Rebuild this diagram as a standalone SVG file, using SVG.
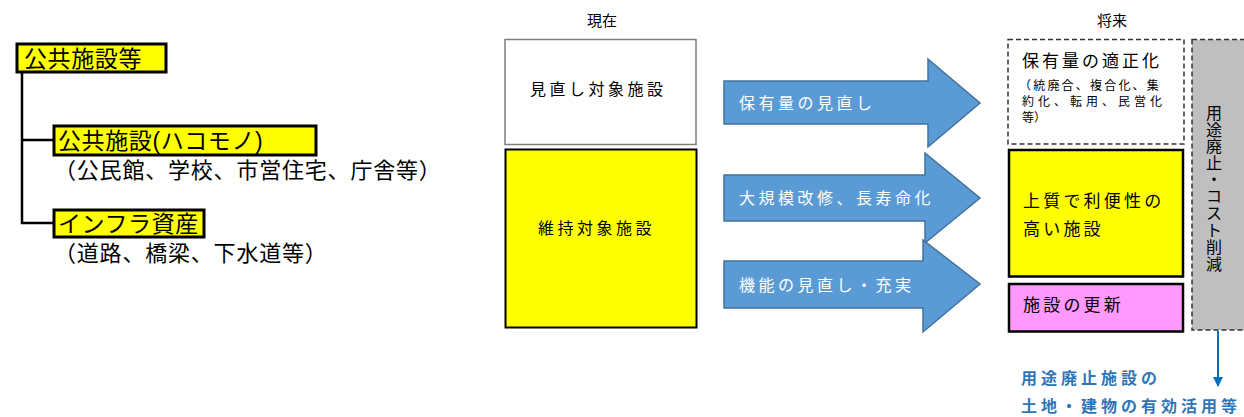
<svg xmlns="http://www.w3.org/2000/svg" width="1244" height="417" viewBox="0 0 1244 417">
<style>
text{font-family:"Liberation Sans","Noto Sans CJK JP",sans-serif;fill:#000}
.ylw{fill:#FFFF00;stroke:#000;stroke-width:3}
.line{stroke:#000;stroke-width:2.5;fill:none}
.lbl{font-size:23px;letter-spacing:0.6px}
.sub{font-size:22px;letter-spacing:0.8px}
.arrow{fill:#5B9BD5;stroke:#41719C;stroke-width:1.5}
.atxt{font-size:16px;fill:#fff;letter-spacing:3.5px}
.mid{font-size:16px;letter-spacing:3.5px}
.dash{stroke:#333;stroke-width:1.5;stroke-dasharray:5,3}
.blue{font-size:16px;font-weight:bold;fill:#2E75B6;letter-spacing:4px}
</style>
<defs>
<marker id="ah" viewBox="0 0 10 10" refX="9" refY="5" markerWidth="5" markerHeight="5" orient="auto">
<path d="M0,0 L10,5 L0,10 z" fill="#0070C0"/>
</marker>
</defs>
<g id="connectors">
<path class="line" d="M22,72 V223 H54 M22,140 H54"/>
<line x1="1218" y1="331" x2="1218" y2="386" stroke="#0070C0" stroke-width="2" marker-end="url(#ah)"/>
</g>
<g id="n-kokyo-shisetsu-to">
<rect class="ylw" x="17" y="44" width="149" height="28"/>
<text class="lbl" x="24" y="67">公共施設等</text>
</g>
<g id="n-hakomono">
<rect class="ylw" x="54" y="126" width="262" height="29"/>
<text class="lbl" x="58" y="149">公共施設(ハコモノ)</text>
<text class="sub" x="54" y="178">（公民館、学校、市営住宅、庁舎等）</text>
</g>
<g id="n-infra">
<rect class="ylw" x="54" y="210" width="150" height="27"/>
<text class="lbl" x="58" y="232">インフラ資産</text>
<text class="sub" x="54" y="261">（道路、橋梁、下水道等）</text>
</g>
<text x="602" y="26" font-size="15" text-anchor="middle">現在</text>
<text x="1112" y="26" font-size="15" text-anchor="middle">将来</text>
<g id="n-minaoshi">
<rect x="505" y="39.5" width="191" height="105" fill="#fff" stroke="#7f7f7f" stroke-width="1.5"/>
<text class="mid" x="530" y="95">見直し対象施設</text>
</g>
<g id="n-iji">
<rect x="505.5" y="149.5" width="191" height="178" fill="#FFFF00" stroke="#000" stroke-width="2"/>
<text class="mid" x="538" y="234">維持対象施設</text>
</g>
<g id="a1">
<path class="arrow" d="M724,81 H928 V59 L980,103 L928,147 V124 H724 Z"/>
<text class="atxt" x="739" y="109">保有量の見直し</text>
</g>
<g id="a2">
<path class="arrow" d="M724,175 H925 V153 L980,198 L925,243 V221 H724 Z"/>
<text class="atxt" x="739" y="204">大規模改修、長寿命化</text>
</g>
<g id="a3">
<path class="arrow" d="M724,261 H923 V240 L980,284 L923,332 V308 H724 Z"/>
<text class="atxt" x="739" y="291">機能の見直し・充実</text>
</g>
<g id="n-tekisei">
<rect class="dash" x="1008" y="39.5" width="176" height="104.5" fill="#fff"/>
<text x="1022" y="67" font-size="17" letter-spacing="3">保有量の適正化</text>
<text x="1019" y="90" font-size="12" letter-spacing="2.2">（統廃合、複合化、集</text>
<text x="1022" y="106" font-size="12" letter-spacing="4">約化、転用、民営化</text>
<text x="1022" y="122" font-size="12">等）</text>
</g>
<g id="n-haishi">
<rect class="dash" x="1192" y="39.5" width="60" height="290.5" fill="#BFBFBF"/>
<text font-size="16" text-anchor="middle">
<tspan x="1214" y="119">用</tspan><tspan x="1214" y="136">途</tspan><tspan x="1214" y="152">廃</tspan><tspan x="1214" y="169">止</tspan><tspan x="1214" y="185">・</tspan><tspan x="1214" y="202">コ</tspan><tspan x="1214" y="219">ス</tspan><tspan x="1214" y="236">ト</tspan><tspan x="1214" y="253">削</tspan><tspan x="1214" y="270">減</tspan>
</text>
</g>
<g id="n-joshitsu">
<rect x="1009" y="150" width="174" height="126.5" fill="#FFFF00" stroke="#000" stroke-width="2.5"/>
<text x="1023" y="207" font-size="17" letter-spacing="3.2">上質で利便性の</text>
<text x="1023" y="235" font-size="17" letter-spacing="3.2">高い施設</text>
</g>
<g id="n-koushin">
<rect x="1009" y="284" width="174" height="47.5" fill="#FF99FF" stroke="#000" stroke-width="2.5"/>
<text x="1023" y="311" font-size="17" letter-spacing="3.2">施設の更新</text>
</g>
<g id="n-katsuyo">
<text class="blue" x="1021" y="384">用途廃止施設の</text>
<text class="blue" x="1021" y="412">土地・建物の有効活用等</text>
</g>
</svg>
